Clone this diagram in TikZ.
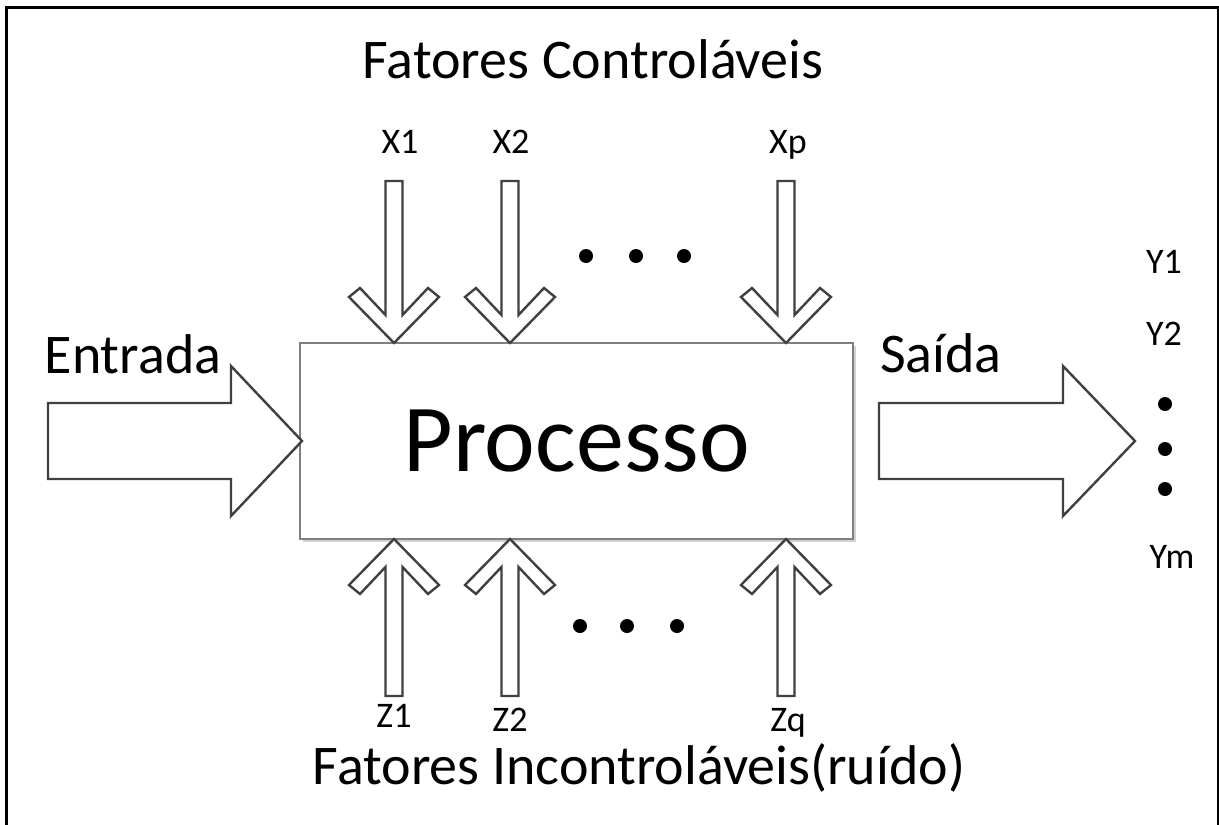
\documentclass[tikz,border=0pt]{standalone}
\usepackage{fontspec}
\setmainfont{Carlito}
\usetikzlibrary{shadows}
\definecolor{arrowgray}{HTML}{404040}
\definecolor{boxgray}{HTML}{7F7F7F}
\tikzset{
  arrowline/.style={draw=arrowgray, line width=2.4pt, line join=miter, fill=white},
  downarr/.pic={\path[arrowline] (0,0) -- (45,-46) -- (34,-55) -- (8.5,-28) -- (8.5,-162) -- (-8.5,-162) -- (-8.5,-28) -- (-34,-55) -- (-45,-46) -- cycle;},
  uparr/.pic={\path[arrowline] (0,0) -- (45,46) -- (34,55) -- (8.5,28) -- (8.5,157) -- (-8.5,157) -- (-8.5,28) -- (-34,55) -- (-45,46) -- cycle;},
  bigtext/.style={font=\fontsize{56}{60}\selectfont, anchor=base, inner sep=0pt},
  smalltext/.style={font=\fontsize{36}{40}\selectfont, anchor=base, inner sep=0pt},
  dotmark/.style={fill=black, draw=none},
  procbox/.style={draw=boxgray, line width=1.5pt, fill=white, minimum width=553pt, minimum height=196pt, inner sep=0pt,
    drop shadow={opacity=0.35, shadow xshift=3pt, shadow yshift=-3pt}, font=\fontsize{96}{100}\selectfont}
}
\begin{document}
\begin{tikzpicture}[x=1pt,y=-1pt]
\useasboundingbox (0,0) rectangle (1219,825);
\fill[white] (0,0) rectangle (1219,825);
% frame
\draw[line width=3pt, line join=miter] (6,830) -- (6,7) -- (1218,7) -- (1218,830);
% process box
\node[procbox] (proc) at (576.5,441) {Processo};
% titles
\node[bigtext] (ctrl) at (593,78) {Fatores Controláveis};
\node[bigtext] (unctrl) at (639,784) {Fatores Incontroláveis(ruído)};
\node[bigtext] (entrada) at (133,373) {Entrada};
\node[bigtext, anchor=base west] (saida) at (880,372) {Saída};
% input / output block arrows
\path[arrowline] (48,403) -- (231,403) -- (231,366) -- (302,441) -- (231,516) -- (231,479) -- (48,479) -- cycle;
\path[arrowline] (879,403) -- (1063,403) -- (1063,366) -- (1135,441) -- (1063,516) -- (1063,479) -- (879,479) -- cycle;
% controllable factor arrows
\pic at (394,343) {downarr};
\pic at (510,343) {downarr};
\pic at (786,343) {downarr};
\node[smalltext] (x1) at (400,153) {X1};
\node[smalltext] (x2) at (511,153) {X2};
\node[smalltext] (xp) at (788,153) {Xp};
\fill[dotmark] (586,256) circle (7);
\fill[dotmark] (636,256) circle (7);
\fill[dotmark] (684,256) circle (7);
% noise arrows
\pic at (394,539) {uparr};
\pic at (510,539) {uparr};
\pic at (786,539) {uparr};
\node[smalltext] (z1) at (394,727) {Z1};
\node[smalltext] (z2) at (510,731) {Z2};
\node[smalltext] (zq) at (788,731) {Zq};
\fill[dotmark] (580,626) circle (7);
\fill[dotmark] (627,626) circle (7);
\fill[dotmark] (677,626) circle (7);
% outputs
\node[smalltext] (y1) at (1164,273) {Y1};
\node[smalltext] (y2) at (1164,345) {Y2};
\fill[dotmark] (1165,404) circle (7);
\fill[dotmark] (1165,449) circle (7);
\fill[dotmark] (1165,489) circle (7);
\node[smalltext] (ym) at (1172,568) {Ym};
\end{tikzpicture}
\end{document}
